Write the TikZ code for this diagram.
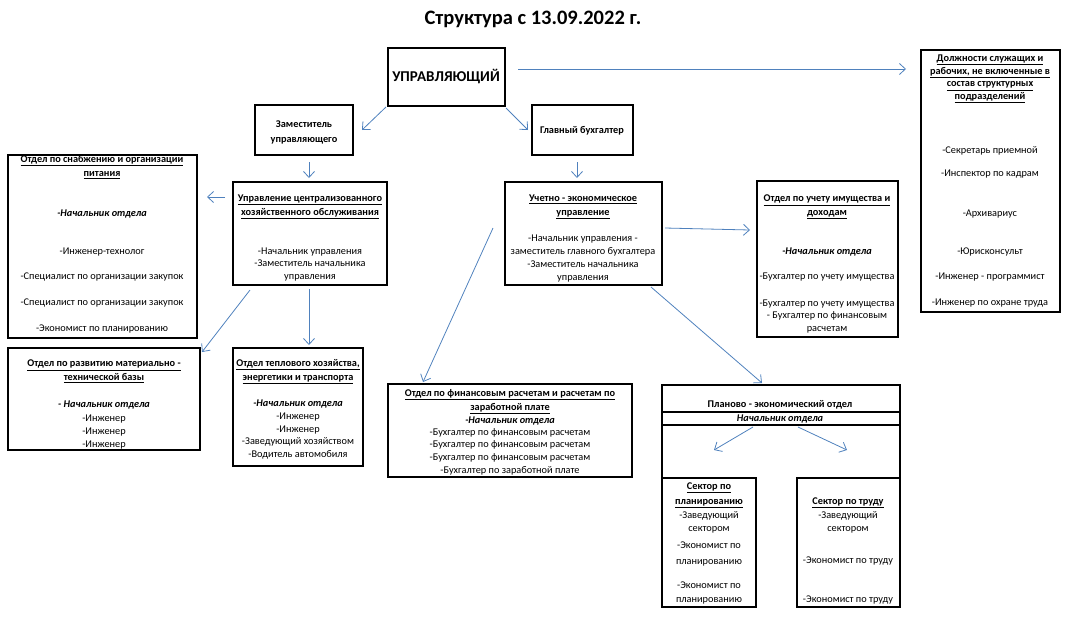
\documentclass[tikz,border=0pt]{standalone}
\usepackage{fontspec}
\setmainfont{Carlito}
\usetikzlibrary{arrows.meta}
\definecolor{arrc}{HTML}{4F81BD}
\newcommand{\uln}[1]{\underline{#1}}
\tikzset{
  box/.style={draw=black, line width=1.5pt, inner sep=0pt, outer sep=0pt, anchor=north west},
  txt/.style={font=\fontsize{10.3}{12.7}\selectfont, inner sep=0pt, align=center},
  hd/.style={font=\fontsize{10.3}{13.8}\selectfont\bfseries, inner sep=0pt, align=center},
  bi/.style={font=\fontsize{10.3}{12.7}\selectfont\bfseries\itshape, inner sep=0pt, align=center},
  arr/.style={draw=arrc, line width=0.8pt, -{Straight Barb[length=6pt,width=11pt]}},
  frame/.style={draw=black, line width=1.5pt}
}
\begin{document}
\begin{tikzpicture}[x=1pt,y=-1pt]
\useasboundingbox (0,0) rectangle (1067,619);
% title
\node[font=\fontsize{20.5}{24}\selectfont\bfseries] (title) at (533,19) {Структура с 13.09.2022 г.};
% boxes
\node[box, minimum width=117pt, minimum height=58pt] (upr) at (388,48) {};
\node[box, minimum width=98pt, minimum height=50pt] (zam) at (255,105) {};
\node[box, minimum width=101pt, minimum height=50pt] (glav) at (532,105) {};
\node[box, minimum width=154pt, minimum height=103pt] (ucho) at (233,182) {};
\node[box, minimum width=189pt, minimum height=183pt] (snab) at (8,155) {};
\node[box, minimum width=192pt, minimum height=102pt] (razv) at (8,348) {};
\node[box, minimum width=130pt, minimum height=118pt] (tepl) at (233,348) {};
\node[box, minimum width=157pt, minimum height=103pt] (uchet) at (505,182) {};
\node[box, minimum width=141pt, minimum height=156pt] (imush) at (757,181) {};
\node[box, minimum width=139pt, minimum height=262pt] (dolzh) at (921,50) {};
\node[box, minimum width=244pt, minimum height=93pt] (fin) at (388,384) {};
\node[box, minimum width=238pt, minimum height=40pt] (plan) at (662,385) {};
\draw[frame] (plan.west |- 0,412) -- (plan.east |- 0,412);
\draw[frame] (plan.south west) -- (662,607) -- (756,607) -- (756,478) -- (662,478);
\draw[frame] (plan.south east) -- (900,607) -- (797,607) -- (797,478) -- (900,478);
% texts
\node[font=\fontsize{15}{17}\selectfont\bfseries] (tupr) at (446,77) {УПРАВЛЯЮЩИЙ};
\node[hd, font=\fontsize{10.3}{15}\selectfont\bfseries] (tzam) at (304,132.5) {Заместитель\\управляющего};
\node[hd] (tglav) at (582,131) {Главный бухгалтер};

\node[hd] (t5a) at (102,167) {\uln{Отдел по снабжению и организации}\\\uln{питания}};
\node[bi] (t5b) at (102,214) {-Начальник отдела};
\node[txt] (t5c) at (102,252) {-Инженер-технолог};
\node[txt] (t5d) at (102,277) {-Специалист по организации закупок};
\node[txt] (t5e) at (102,303) {-Специалист по организации закупок};
\node[txt] (t5f) at (102,329) {-Экономист по планированию};

\node[hd] (t6a) at (104,371.5) {\uln{Отдел по развитию материально -}\\\uln{технической базы}};
\node[bi] (t6b) at (104,405) {- Начальник отдела};
\node[txt] (t6c) at (104,432) {-Инженер\\-Инженер\\-Инженер};

\node[hd] (t4a) at (310,207) {\uln{Управление централизованного}\\\uln{хозяйственного обслуживания}};
\node[txt] (t4b) at (310,264.5) {-Начальник управления\\-Заместитель начальника\\управления};

\node[hd] (t7a) at (298,371.5) {\uln{Отдел теплового хозяйства,}\\\uln{энергетики и транспорта}};
\node[bi] (t7b) at (298,404) {-Начальник отдела};
\node[txt] (t7c) at (298,436) {-Инженер\\-Инженер\\-Заведующий хозяйством\\-Водитель автомобиля};

\node[hd] (t8a) at (583,207) {\uln{Учетно - экономическое}\\\uln{управление}};
\node[txt] (t8b) at (583,258.5) {-Начальник управления -\\заместитель главного бухгалтера\\-Заместитель начальника\\управления};

\node[hd] (t9a) at (827,207) {\uln{Отдел по учету имущества и}\\\uln{доходам}};
\node[bi] (t9b) at (827,252) {-Начальник отдела};
\node[txt] (t9c) at (827,277) {-Бухгалтер по учету имущества};
\node[txt] (t9d) at (827,316.5) {-Бухгалтер по учету имущества\\- Бухгалтер по финансовым\\расчетам};

\node[hd, font=\fontsize{10.3}{12.7}\selectfont\bfseries] (t10a) at (990,79) {\uln{Должности служащих и}\\\uln{рабочих, не включенные в}\\\uln{состав структурных}\\\uln{подразделений}};
\node[txt] (t10b) at (990,151) {-Секретарь приемной};
\node[txt] (t10c) at (990,174) {-Инспектор по кадрам};
\node[txt] (t10d) at (990,214) {-Архивариус};
\node[txt] (t10e) at (990,252) {-Юрисконсульт};
\node[txt] (t10f) at (990,277) {-Инженер - программист};
\node[txt] (t10g) at (990,303) {-Инженер по охране труда};

\node[hd] (t11a) at (510,401.5) {\uln{Отдел по финансовым расчетам и расчетам по}\\\uln{заработной плате}};
\node[bi] (t11b) at (510,421) {-Начальник отдела};
\node[txt] (t11c) at (510,451.5) {-Бухгалтер по финансовым расчетам\\-Бухгалтер по финансовым расчетам\\-Бухгалтер по финансовым расчетам\\-Бухгалтер по заработной плате};

\node[hd] (t12a) at (780,405) {Планово - экономический отдел};
\node[bi] (t12b) at (780,418.5) {Начальник отдела};
\node[hd, font=\fontsize{10.3}{15}\selectfont\bfseries] (t12c) at (709,495.5) {\uln{Сектор по}\\\uln{планированию}};
\node[txt] (t12d) at (709,522.5) {-Заведующий\\сектором};
\node[txt, font=\fontsize{10.3}{15.5}\selectfont] (t12e) at (709,554) {-Экономист по\\планированию};
\node[txt, font=\fontsize{10.3}{14}\selectfont] (t12f) at (709,593) {-Экономист по\\планированию};
\node[hd] (t12g) at (848,503) {\uln{Сектор по труду}};
\node[txt] (t12h) at (848,522.5) {-Заведующий\\сектором};
\node[txt] (t12i) at (848,561) {-Экономист по труду};
\node[txt] (t12j) at (848,600) {-Экономист по труду};
% arrow endpoints
\coordinate (a1s) at (518,69);  \coordinate (a1e) at (906,69);
\coordinate (a2s) at (386,107); \coordinate (a2e) at (362,130);
\coordinate (a3s) at (506,108); \coordinate (a3e) at (528,130);
\coordinate (a4s) at (309,162); \coordinate (a4e) at (309,178);
\coordinate (a5s) at (577,162); \coordinate (a5e) at (577,178);
\coordinate (a6s) at (225,197); \coordinate (a6e) at (207,197);
\coordinate (a7s) at (250,290); \coordinate (a7e) at (202,352);
\coordinate (a8s) at (309,289); \coordinate (a8e) at (309,345);
\coordinate (a9s) at (493,228); \coordinate (a9e) at (423,382);
\coordinate (a10s) at (665,228); \coordinate (a10e) at (750,230);
\coordinate (a11s) at (651,287); \coordinate (a11e) at (762,383);
\coordinate (a12s) at (753,427); \coordinate (a12e) at (714,450);
\coordinate (a13s) at (798,427); \coordinate (a13e) at (847,450);
\foreach \i in {1,...,13} {\draw[arr] (a\i s) -- (a\i e);}
\end{tikzpicture}
\end{document}
